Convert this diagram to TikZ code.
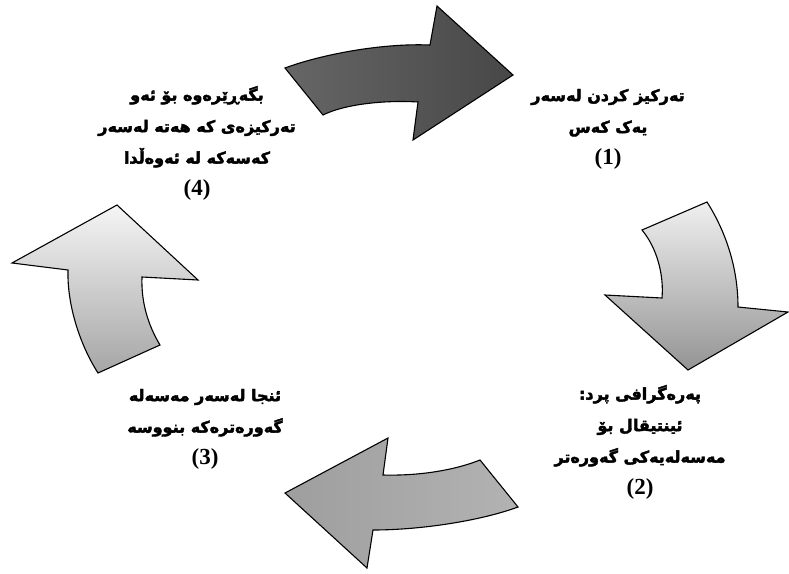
\documentclass[tikz,border=0pt]{standalone}
\usepackage{fontspec}
\TeXXeTstate=1
\newfontfamily\arabicfont[Script=Arabic,FakeBold=2.5]{DejaVu Sans}
\newfontfamily\numfont{Liberation Serif}
\newcommand\rtl[1]{{\arabicfont\bfseries\beginR #1\endR}}
\newcommand\numl[1]{{\numfont\bfseries\fontsize{23}{26}\selectfont #1}}
\begin{document}
\begin{tikzpicture}[x=1pt,y=-1pt,
  arrowshape/.style={draw=black, line width=1.1pt, line join=miter},
  lbl/.style={align=center, font=\fontsize{16}{31.5}\selectfont, inner sep=0pt}]
\useasboundingbox (0,0) rectangle (789,573);
% top arrow (dark)
\shadedraw[arrowshape, left color=black!60, right color=black!72]
  (285,68) .. controls (320,55) and (380,43) .. (430,45) -- (437,6) -- (513,75)
  -- (413,140) -- (418,102) .. controls (385,100) and (345,104) .. (323,115) -- cycle;
% right arrow
\shadedraw[arrowshape, top color=black!6, bottom color=black!42]
  (642,230) -- (707,202) .. controls (726,232) and (738,268) .. (738,307)
  -- (788,312) -- (688,370) -- (605,295) -- (662,298)
  .. controls (664,275) and (657,248) .. (642,230) -- cycle;
% left arrow
\shadedraw[arrowshape, top color=black!4, bottom color=black!35]
  (117,205) -- (198,280) -- (142,277) .. controls (141,302) and (148,325) .. (160,345)
  -- (98,373) .. controls (80,345) and (67,305) .. (68,270) -- (12,263) -- cycle;
% bottom arrow
\shadedraw[arrowshape, left color=black!38, right color=black!30]
  (285,493) -- (388,438) -- (383,475) .. controls (420,476) and (455,470) .. (480,460)
  -- (518,507) .. controls (480,521) and (420,530) .. (373,530) -- (367,568) -- cycle;
% labels
\node[lbl] (t1) at (608,129) {\rtl{تەرکیز کردن لەسەر}\\ \rtl{یەک کەس}\\ \numl{(1)}};
\node[lbl] (t2) at (640,442) {\rtl{پەرەگرافی پرد:}\\ \rtl{ئینتیقال بۆ}\\ \rtl{مەسەلەیەکی گەورەتر}\\ \numl{(2)}};
\node[lbl] (t3) at (205,429) {\rtl{ئنجا لەسەر مەسەلە}\\ \rtl{گەورەترەکە بنووسە}\\ \numl{(3)}};
\node[lbl] (t4) at (197,143) {\rtl{بگەڕێرەوە بۆ ئەو}\\ \rtl{تەرکیزەی کە هەتە لەسەر}\\ \rtl{کەسەکە لە ئەوەڵدا}\\ \numl{(4)}};
\end{tikzpicture}
\end{document}
